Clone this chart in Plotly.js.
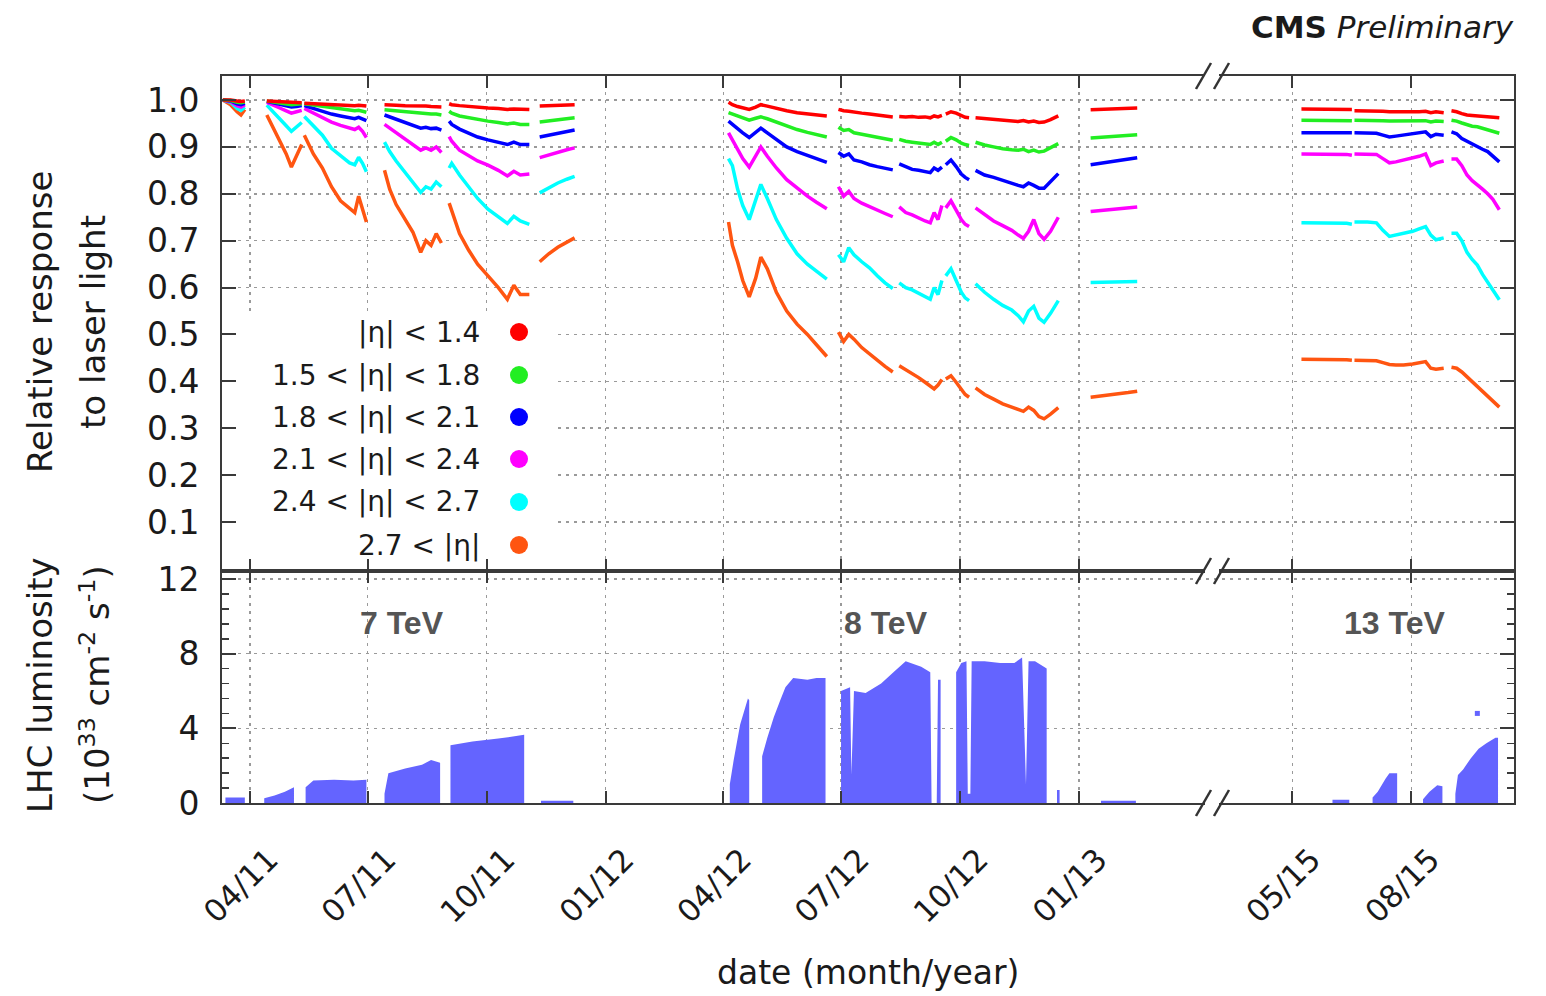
<!DOCTYPE html>
<html>
<head>
<meta charset="utf-8">
<script src="https://cdn.plot.ly/plotly-3.0.1.min.js"></script>
<style>
html,body{margin:0;padding:0;background:#fff;}
#chart{width:1546px;height:996px;}
</style>
</head>
<body>
<div id="chart"></div>
<script>
// ---------------- DATA ----------------
const seriesNames = ['|η| < 1.4', '1.5 < |η| < 1.8', '1.8 < |η| < 2.1', '2.1 < |η| < 2.4', '2.4 < |η| < 2.7', '2.7 < |η|'];
const seriesColors = ['#ff0000', '#22ee22', '#0000ff', '#ff00ff', '#00ffff', '#ff5511'];

// shared date grid for the laser-response curves (null = gap between fills)
const responseDates = [
 '2011-03-11','2011-03-17','2011-03-22','2011-03-25','2011-03-28', null,
 '2011-04-14','2011-04-19','2011-04-24','2011-04-29','2011-05-03','2011-05-07','2011-05-11', null,
 '2011-05-13','2011-05-20','2011-05-27','2011-06-03','2011-06-10','2011-06-17','2011-06-21','2011-06-24','2011-06-27','2011-06-30', null,
 '2011-07-14','2011-07-18','2011-07-23','2011-07-30','2011-08-05','2011-08-11','2011-08-15','2011-08-19','2011-08-23','2011-08-27', null,
 '2011-09-02','2011-09-04','2011-09-10','2011-09-17','2011-09-24','2011-10-02','2011-10-10','2011-10-17','2011-10-22','2011-10-27','2011-11-03', null,
 '2011-11-11','2011-11-18','2011-11-25','2011-12-02','2011-12-08', null,
 '2012-04-05','2012-04-08','2012-04-12','2012-04-16','2012-04-21','2012-04-26','2012-04-30','2012-05-05','2012-05-12','2012-05-20','2012-05-28','2012-06-05','2012-06-12','2012-06-20', null,
 '2012-06-29','2012-07-03','2012-07-07','2012-07-11','2012-07-17','2012-07-23','2012-07-29','2012-08-04','2012-08-10', null,
 '2012-08-15','2012-08-20','2012-08-25','2012-08-30','2012-09-04','2012-09-08','2012-09-11','2012-09-14','2012-09-17', null,
 '2012-09-20','2012-09-24','2012-09-28','2012-10-02','2012-10-05','2012-10-08', null,
 '2012-10-13','2012-10-20','2012-10-27','2012-11-03','2012-11-10','2012-11-15','2012-11-19','2012-11-23','2012-11-27','2012-12-01','2012-12-05','2012-12-10','2012-12-16', null,
 '2013-01-10','2013-01-20','2013-01-30','2013-02-08','2013-02-15', null,
 '2015-05-08','2015-05-20','2015-06-01','2015-06-12','2015-06-16', null,
 '2015-06-18','2015-06-28','2015-07-05','2015-07-10','2015-07-15','2015-07-20','2015-07-26','2015-08-02','2015-08-07','2015-08-12','2015-08-16','2015-08-20','2015-08-26', null,
 '2015-09-01','2015-09-05','2015-09-09','2015-09-13','2015-09-17','2015-09-21','2015-09-25','2015-09-29','2015-10-03','2015-10-08'
];

const respEta14 = [
 1.0,1.0,0.998,0.997,0.998, null,
 0.998,0.997,0.996,0.995,0.994,0.994,0.994, null,
 0.993,0.992,0.991,0.99,0.989,0.988,0.988,0.989,0.988,0.987, null,
 0.99,0.99,0.989,0.988,0.988,0.987,0.987,0.986,0.986,0.985, null,
 0.992,0.99,0.988,0.986,0.984,0.983,0.982,0.98,0.981,0.98,0.98, null,
 0.987,0.988,0.989,0.99,0.99, null,
 0.995,0.99,0.986,0.983,0.98,0.985,0.99,0.987,0.982,0.977,0.973,0.97,0.968,0.966, null,
 0.98,0.977,0.976,0.975,0.972,0.97,0.968,0.966,0.964, null,
 0.965,0.964,0.965,0.963,0.964,0.962,0.966,0.964,0.967, null,
 0.97,0.975,0.972,0.966,0.963,0.962, null,
 0.962,0.96,0.958,0.957,0.955,0.954,0.956,0.953,0.955,0.952,0.953,0.958,0.966, null,
 0.979,0.98,0.981,0.982,0.983, null,
 0.981,0.981,0.981,0.98,0.98, null,
 0.977,0.977,0.976,0.976,0.975,0.975,0.974,0.975,0.975,0.976,0.973,0.975,0.973, null,
 0.977,0.975,0.971,0.968,0.967,0.966,0.965,0.964,0.963,0.962
];
const respEta15to18 = [
 1.0,0.999,0.995,0.994,0.996, null,
 0.998,0.996,0.994,0.992,0.99,0.991,0.992, null,
 0.992,0.989,0.986,0.983,0.98,0.978,0.977,0.978,0.976,0.974, null,
 0.979,0.978,0.977,0.975,0.973,0.971,0.971,0.97,0.97,0.968, null,
 0.976,0.972,0.966,0.962,0.958,0.955,0.952,0.949,0.951,0.948,0.948, null,
 0.953,0.955,0.958,0.96,0.962, null,
 0.973,0.97,0.965,0.961,0.957,0.961,0.964,0.96,0.953,0.945,0.937,0.931,0.926,0.921, null,
 0.942,0.935,0.937,0.93,0.927,0.924,0.92,0.917,0.914, null,
 0.916,0.912,0.91,0.908,0.907,0.905,0.91,0.905,0.91, null,
 0.912,0.92,0.915,0.908,0.905,0.903, null,
 0.91,0.904,0.9,0.896,0.894,0.893,0.895,0.89,0.893,0.889,0.891,0.898,0.907, null,
 0.919,0.921,0.923,0.925,0.926, null,
 0.957,0.957,0.957,0.957,0.956, null,
 0.957,0.957,0.956,0.956,0.955,0.955,0.955,0.956,0.956,0.956,0.953,0.955,0.954, null,
 0.957,0.955,0.951,0.947,0.944,0.943,0.94,0.937,0.933,0.929
];
const respEta18to21 = [
 1.0,0.998,0.992,0.99,0.993, null,
 0.997,0.994,0.99,0.987,0.985,0.986,0.988, null,
 0.988,0.982,0.976,0.97,0.966,0.962,0.96,0.963,0.959,0.956, null,
 0.968,0.964,0.958,0.952,0.946,0.94,0.942,0.939,0.94,0.936, null,
 0.955,0.948,0.938,0.929,0.921,0.915,0.91,0.905,0.91,0.905,0.905, null,
 0.921,0.925,0.929,0.933,0.936, null,
 0.955,0.948,0.938,0.93,0.92,0.932,0.94,0.93,0.915,0.9,0.89,0.882,0.875,0.867, null,
 0.888,0.88,0.885,0.872,0.868,0.862,0.858,0.855,0.851, null,
 0.864,0.857,0.852,0.85,0.848,0.845,0.855,0.85,0.857, null,
 0.862,0.872,0.858,0.842,0.835,0.83, null,
 0.85,0.84,0.835,0.828,0.822,0.818,0.815,0.823,0.818,0.812,0.812,0.826,0.843, null,
 0.862,0.866,0.87,0.874,0.877, null,
 0.93,0.93,0.93,0.93,0.93, null,
 0.93,0.93,0.929,0.925,0.921,0.923,0.925,0.928,0.93,0.932,0.922,0.927,0.925, null,
 0.932,0.928,0.918,0.912,0.905,0.9,0.895,0.89,0.88,0.868
];
const respEta21to24 = [
 1.0,0.997,0.988,0.985,0.99, null,
 0.995,0.99,0.983,0.977,0.972,0.975,0.978, null,
 0.982,0.972,0.962,0.953,0.946,0.94,0.937,0.942,0.933,0.92, null,
 0.948,0.94,0.93,0.918,0.905,0.893,0.898,0.893,0.9,0.888, null,
 0.922,0.912,0.893,0.882,0.87,0.861,0.85,0.838,0.848,0.84,0.842, null,
 0.877,0.883,0.889,0.894,0.898, null,
 0.93,0.915,0.895,0.875,0.857,0.88,0.9,0.88,0.855,0.83,0.812,0.795,0.782,0.768, null,
 0.815,0.795,0.805,0.79,0.78,0.772,0.765,0.758,0.751, null,
 0.772,0.76,0.755,0.748,0.742,0.738,0.76,0.745,0.775, null,
 0.77,0.785,0.765,0.745,0.735,0.73, null,
 0.77,0.755,0.742,0.732,0.722,0.712,0.705,0.72,0.745,0.715,0.703,0.72,0.75, null,
 0.762,0.765,0.768,0.77,0.772, null,
 0.885,0.885,0.885,0.884,0.882, null,
 0.885,0.885,0.884,0.875,0.866,0.868,0.872,0.876,0.88,0.885,0.86,0.866,0.87, null,
 0.874,0.874,0.86,0.84,0.828,0.82,0.81,0.8,0.788,0.766
];
const respEta24to27 = [
 1.0,0.995,0.982,0.978,0.985, null,
 0.989,0.975,0.96,0.945,0.933,0.943,0.952, null,
 0.965,0.945,0.925,0.897,0.882,0.866,0.862,0.878,0.865,0.847, null,
 0.91,0.89,0.87,0.845,0.825,0.803,0.815,0.81,0.825,0.815, null,
 0.855,0.865,0.84,0.815,0.79,0.767,0.75,0.737,0.752,0.742,0.735, null,
 0.802,0.813,0.823,0.831,0.837, null,
 0.875,0.86,0.81,0.775,0.745,0.79,0.82,0.79,0.745,0.705,0.672,0.65,0.635,0.618, null,
 0.67,0.655,0.685,0.67,0.655,0.642,0.625,0.61,0.598, null,
 0.61,0.6,0.595,0.588,0.58,0.575,0.6,0.585,0.615, null,
 0.625,0.64,0.615,0.59,0.578,0.572, null,
 0.608,0.59,0.575,0.562,0.552,0.54,0.527,0.55,0.56,0.535,0.526,0.545,0.572, null,
 0.611,0.612,0.612,0.613,0.613, null,
 0.738,0.738,0.738,0.737,0.735, null,
 0.74,0.74,0.738,0.722,0.709,0.712,0.716,0.72,0.725,0.73,0.712,0.702,0.706, null,
 0.716,0.716,0.7,0.675,0.66,0.648,0.628,0.61,0.595,0.574
];
const respEtaAbove27 = [
 1.0,0.99,0.975,0.968,0.98, null,
 0.968,0.94,0.915,0.885,0.857,0.88,0.905, null,
 0.925,0.885,0.855,0.815,0.785,0.77,0.76,0.795,0.77,0.74, null,
 0.85,0.81,0.777,0.745,0.718,0.675,0.7,0.69,0.715,0.695, null,
 0.78,0.765,0.715,0.68,0.65,0.625,0.6,0.575,0.605,0.585,0.585, null,
 0.655,0.672,0.686,0.697,0.706, null,
 0.74,0.69,0.655,0.615,0.58,0.62,0.665,0.64,0.59,0.55,0.522,0.5,0.478,0.453, null,
 0.505,0.485,0.5,0.49,0.472,0.458,0.445,0.432,0.42, null,
 0.433,0.425,0.418,0.408,0.398,0.39,0.384,0.392,0.404, null,
 0.405,0.412,0.398,0.382,0.372,0.366, null,
 0.386,0.372,0.362,0.352,0.345,0.34,0.336,0.345,0.338,0.325,0.32,0.33,0.344, null,
 0.366,0.369,0.373,0.376,0.379, null,
 0.447,0.447,0.447,0.446,0.445, null,
 0.445,0.445,0.444,0.44,0.436,0.435,0.435,0.437,0.44,0.442,0.428,0.426,0.428, null,
 0.43,0.428,0.42,0.41,0.398,0.39,0.38,0.37,0.358,0.345
];

// LHC peak luminosity envelope (10^33 cm^-2 s^-1)
const lumiDates = [
 '2011-03-13','2011-03-13','2011-03-28','2011-03-28',
 '2011-04-12','2011-04-12','2011-04-20','2011-04-28','2011-05-05','2011-05-05',
 '2011-05-14','2011-05-14','2011-05-20','2011-06-05','2011-06-20','2011-06-30','2011-06-30',
 '2011-07-14','2011-07-14','2011-07-17','2011-07-30','2011-08-12','2011-08-19','2011-08-26','2011-08-26',
 '2011-09-03','2011-09-03','2011-09-20','2011-10-10','2011-10-20','2011-10-30','2011-10-30',
 '2011-11-12','2011-11-12','2011-12-07','2011-12-07',
 '2012-04-06','2012-04-06','2012-04-09','2012-04-14','2012-04-20','2012-04-21','2012-04-21',
 '2012-05-01','2012-05-01','2012-05-05','2012-05-10','2012-05-15','2012-05-19','2012-05-25','2012-06-05','2012-06-12','2012-06-19','2012-06-19',
 '2012-07-01','2012-07-01','2012-07-08','2012-07-09','2012-07-11','2012-07-20','2012-08-01','2012-08-12','2012-08-20','2012-09-01','2012-09-08','2012-09-09','2012-09-13','2012-09-14','2012-09-16','2012-09-16',
 '2012-09-28','2012-09-28','2012-10-02','2012-10-06','2012-10-07','2012-10-09','2012-10-10','2012-10-20','2012-11-01','2012-11-12','2012-11-18','2012-11-21','2012-11-23','2012-11-28','2012-12-05','2012-12-07','2012-12-07',
 '2012-12-15','2012-12-15','2012-12-17','2012-12-17',
 '2013-01-18','2013-01-18','2013-02-14','2013-02-14',
 '2015-06-01','2015-06-01','2015-06-14','2015-06-14',
 '2015-07-02','2015-07-02','2015-07-06','2015-07-12','2015-07-15','2015-07-21','2015-07-21',
 '2015-08-10','2015-08-10','2015-08-15','2015-08-21','2015-08-25','2015-08-25',
 '2015-09-04','2015-09-04','2015-09-06','2015-09-10','2015-09-16','2015-09-22','2015-09-28','2015-10-05','2015-10-07','2015-10-07'
];
const lumiValues = [
 0,0.3,0.3,0,
 0,0.25,0.4,0.6,0.85,0,
 0,0.85,1.2,1.25,1.2,1.25,0,
 0,0.5,1.6,1.85,2.05,2.3,2.15,0,
 0,3.1,3.3,3.45,3.55,3.65,0,
 0,0.12,0.12,0,
 0,1.0,2.3,4.2,5.6,5.5,0,
 0,2.5,3.5,4.6,5.5,6.2,6.7,6.6,6.7,6.7,0,
 0,6.0,6.2,1.5,6.0,5.9,6.4,7.1,7.6,7.3,7.0,0,0,6.6,6.6,0,
 0,7.0,7.5,7.6,0.5,0.5,7.6,7.6,7.5,7.5,7.8,1.0,7.6,7.6,7.3,7.2,0,
 0,0.7,0.7,0,
 0,0.12,0.12,0,
 0,0.18,0.18,0,
 0,0.3,0.6,1.3,1.6,1.6,0,
 0,0.2,0.6,0.95,0.9,0,
 0,0.5,1.5,1.8,2.4,2.9,3.2,3.5,3.5,0
];
const lumiOutlierDates = ['2015-09-21'];
const lumiOutlierValues = [4.8];

// axis ticks
const tickDates = ['2011-04-01','2011-07-01','2011-10-01','2012-01-01','2012-04-01','2012-07-01','2012-10-01','2013-01-01','2015-05-01','2015-08-01'];
const tickLabels = ['04/11','07/11','10/11','01/12','04/12','07/12','10/12','01/13','05/15','08/15'];
const respTickVals = [0.1,0.2,0.3,0.4,0.5,0.6,0.7,0.8,0.9,1.0];
const respTickText = ['0.1','0.2','0.3','0.4','0.5','0.6','0.7','0.8','0.9','1.0'];
const energyLabels = ['7 TeV','8 TeV','13 TeV'];

// ---------------- AXIS WITH BREAK ----------------
const BREAK_SHIFT_DAYS = 685; // days hidden by the broken axis (2013 -> 2015)
function toX(s){
  if(s === null) return null;
  const p = s.split('-').map(Number);
  let d = (Date.UTC(p[0], p[1]-1, p[2]) - Date.UTC(2011,0,1)) / 86400000;
  if(p[0] >= 2014) d -= BREAK_SHIFT_DAYS;
  return d;
}
const X_RANGE = [68.35, 1067.35];
const SPLIT = 0.3191;

const respSeries = [respEta14, respEta15to18, respEta18to21, respEta21to24, respEta24to27, respEtaAbove27];
const traces = [];
traces.push({
  type:'scatter', mode:'lines', x: lumiDates.map(toX), y: lumiValues,
  xaxis:'x', yaxis:'y', fill:'tozeroy', fillcolor:'#6464ff',
  line:{width:0, color:'#6464ff'}, hoverinfo:'skip'
});
traces.push({
  type:'scatter', mode:'markers', x: lumiOutlierDates.map(toX), y: lumiOutlierValues,
  xaxis:'x', yaxis:'y', marker:{size:5, symbol:'square', color:'#6464ff'}, hoverinfo:'skip'
});
const rx = responseDates.map(toX);
respSeries.slice().reverse().forEach((vals, k) => {
  const i = respSeries.length - 1 - k;
  traces.push({
    type:'scatter', mode:'lines', x: rx, y: vals, name: seriesNames[i],
    xaxis:'x2', yaxis:'y2', connectgaps:false,
    line:{color: seriesColors[i], width:3.5}, hoverinfo:'skip'
  });
});

// ---------------- LAYOUT ----------------
const FRAME = '#3a3a3a';
const commonX = {
  range: X_RANGE, autorange:false,
  tickmode:'array', tickvals: tickDates.map(toX), ticktext: tickLabels,
  ticks:'inside', ticklen:12, tickwidth:2, tickcolor:FRAME,
  showline:true, linecolor:FRAME, linewidth:2, mirror:'ticks',
  showgrid:true, gridcolor:'#9a9a9a', gridwidth:1.5, griddash:'3px,5px',
  zeroline:false
};
const pxToPaperX = px => (px - 222) / 1292;
const pxToPaperY = py => (803 - py) / 727;

const annotations = [];
const legendRowsY = [332, 375, 417, 459, 502, 545];
seriesNames.forEach((n, i) => {
  annotations.push({
    xref:'paper', yref:'paper', x: pxToPaperX(482), y: pxToPaperY(legendRowsY[i]),
    xanchor:'right', yanchor:'middle', showarrow:false, text:n,
    font:{family:'DejaVu Sans', size:28, color:'#1a1a1a'}
  });
});
const energyPx = [402, 886, 1394];
energyLabels.forEach((t, i) => {
  annotations.push({
    xref:'paper', yref:'paper', x: pxToPaperX(energyPx[i]), y: pxToPaperY(623),
    xanchor:'center', yanchor:'middle', showarrow:false, text:t,
    font:{family:'Liberation Sans', size:32, color:'#555555', weight:'bold'}
  });
});
annotations.push({
  xref:'paper', yref:'paper', x: pxToPaperX(1516), y: pxToPaperY(27),
  xanchor:'right', yanchor:'middle', showarrow:false,
  text:'<b>CMS</b> <i>Preliminary</i>',
  font:{family:'DejaVu Sans', size:31, color:'#1a1a1a'}
});
const yTitles = [
  {t:'Relative response', x:40, y:322},
  {t:'to laser light', x:93, y:322},
  {t:'LHC luminosity', x:40, y:685},
  {t:'(10<sup>33</sup> cm<sup>-2</sup> s<sup>-1</sup>)', x:95, y:685}
];
yTitles.forEach(o => annotations.push({
  xref:'paper', yref:'paper', x: pxToPaperX(o.x), y: pxToPaperY(o.y),
  xanchor:'center', yanchor:'middle', showarrow:false, textangle:-90, text:o.t,
  font:{family:'DejaVu Sans', size:34, color:'#1a1a1a'}
}));
annotations.push({
  xref:'paper', yref:'paper', x: 0.5, y: pxToPaperY(972),
  xanchor:'center', yanchor:'middle', showarrow:false, text:'date (month/year)',
  font:{family:'DejaVu Sans', size:33, color:'#1a1a1a'}
});

const shapes = [];
// white legend panel (above grid, below data)
shapes.push({
  type:'rect', xref:'x2', yref:'y2', layer:'between',
  x0: 70, x1: 326.6, y0: 0.006, y1: 0.548,
  fillcolor:'#ffffff', line:{width:0}
});
// legend dots
legendRowsY.forEach((py, i) => shapes.push({
  type:'circle', xref:'paper', yref:'paper', layer:'above',
  xsizemode:'pixel', ysizemode:'pixel',
  xanchor: pxToPaperX(519), yanchor: pxToPaperY(py),
  x0:-9, x1:9, y0:-9, y1:9, fillcolor: seriesColors[i], line:{width:0}
}));
// axis break marks "//"
[76, 571, 803].forEach(py => {
  const yc = pxToPaperY(py);
  shapes.push({type:'rect', xref:'paper', yref:'paper', layer:'above',
    x0: pxToPaperX(1205), x1: pxToPaperX(1219), y0: yc - 4/727, y1: yc + 4/727,
    fillcolor:'#ffffff', line:{width:0}});
  shapes.push({type:'line', xref:'paper', yref:'paper', layer:'above',
    x0: pxToPaperX(1196), y0: yc - 13/727, x1: pxToPaperX(1211), y1: yc + 13/727,
    line:{color:'#333', width:2.5}});
  shapes.push({type:'line', xref:'paper', yref:'paper', layer:'above',
    x0: pxToPaperX(1214), y0: yc - 13/727, x1: pxToPaperX(1229), y1: yc + 13/727,
    line:{color:'#333', width:2.5}});
});

const layout = {
  width:1546, height:996,
  margin:{l:222, r:32, t:76, b:193, pad:0},
  paper_bgcolor:'#ffffff', plot_bgcolor:'#ffffff',
  showlegend:false,
  font:{family:'DejaVu Sans', size:33, color:'#1a1a1a'},
  xaxis: Object.assign({}, commonX, {
    anchor:'y', domain:[0,1], showticklabels:true, tickangle:-45,
    tickfont:{family:'DejaVu Sans', size:31, color:'#1a1a1a'},
    ticklabelstandoff:24, ticklabelshift:19
  }),
  xaxis2: Object.assign({}, commonX, {anchor:'y2', domain:[0,1], showticklabels:false}),
  yaxis: {
    domain:[0, SPLIT], range:[0, 12.43], autorange:false,
    tickmode:'linear', tick0:0, dtick:4,
    ticks:'inside', ticklen:14, tickwidth:2, tickcolor:FRAME,
    minor:{tickmode:'linear', tick0:0, dtick:0.8, ticks:'inside', ticklen:7, tickwidth:1.5, tickcolor:FRAME, showgrid:false},
    showline:true, linecolor:FRAME, linewidth:2, mirror:'ticks',
    showgrid:true, gridcolor:'#9a9a9a', gridwidth:1.5, griddash:'3px,5px',
    zeroline:false,
    tickfont:{family:'DejaVu Sans', size:33, color:'#1a1a1a'},
    ticklabelstandoff:14
  },
  yaxis2: {
    domain:[SPLIT, 1], range:[-0.0045, 1.0512], autorange:false,
    tickmode:'array', tickvals: respTickVals, ticktext: respTickText,
    ticks:'inside', ticklen:14, tickwidth:2, tickcolor:FRAME,
    showline:true, linecolor:FRAME, linewidth:2, mirror:'ticks',
    showgrid:true, gridcolor:'#9a9a9a', gridwidth:1.5, griddash:'3px,5px',
    zeroline:false,
    tickfont:{family:'DejaVu Sans', size:33, color:'#1a1a1a'},
    ticklabelstandoff:14
  },
  annotations: annotations,
  shapes: shapes
};

Plotly.newPlot('chart', traces, layout, {staticPlot:true, displayModeBar:false}).then(() => {
  // drop empty placeholder text nodes (e.g. unused axis titles)
  document.querySelectorAll('#chart text').forEach(t => {
    if(!t.textContent.trim()) t.remove();
  });
});
</script>
</body>
</html>
